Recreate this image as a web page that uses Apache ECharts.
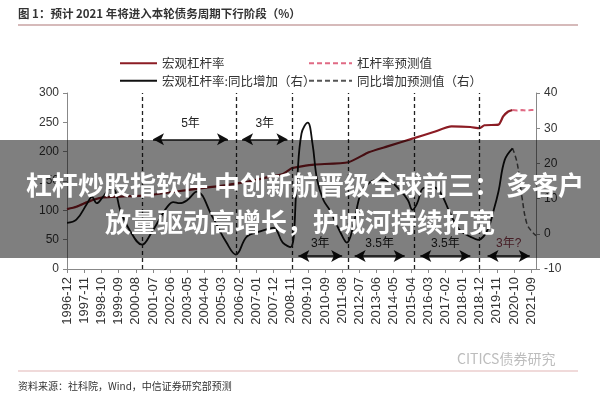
<!DOCTYPE html>
<html><head><meta charset="utf-8">
<script src="https://cdn.jsdelivr.net/npm/echarts@6/dist/echarts.min.js"></script>
<style>html,body{margin:0;padding:0;background:#fff}#c{width:600px;height:400px}</style>
</head><body><div id="c"></div>
<script>
// ---- data ----
const startMonth = '1996-12';
const endMonth = '2021-12';
// 宏观杠杆率 (left axis, %)
const leverageActual = [
  ['1996-12',102],['1997-06',106],['1998-01',114],['1998-06',119],['1998-11',122],
  ['1999-06',123],['2000-02',124],['2001-01',125],['2002-04',130],['2003-06',135],
  ['2004-06',139],['2005-06',143],['2006-06',148],['2007-06',155],['2008-06',162],
  ['2008-12',172],['2009-06',175],['2010-02',178],['2011-12',182],['2013-01',199],
  ['2014-01',209],['2015-06',223],['2016-06',233],['2017-06',243],['2018-06',242],
  ['2018-12',240],['2019-03',245],['2019-12',246],['2020-03',260],['2020-06',268],
  ['2020-09',271]
];
// 杠杆率预测值
const leverageForecast = [
  ['2020-09',271],['2020-12',270],['2021-03',271],['2021-06',270],['2021-09',271],['2021-12',271]
];
// 宏观杠杆率:同比增加 (right axis)
const yoyActual = [
  ['1996-12',3.1],['1997-06',4],['1998-01',8.7],['1998-04',10.5],['1998-07',8.7],
  ['1998-11',10.5],['1999-04',13],['1999-07',12],['1999-10',6.8],['2000-04',1.1],
  ['2000-12',-3.1],['2001-06',0.3],['2001-12',4.8],['2002-04',7.6],['2002-08',9],
  ['2002-12',8.7],['2003-05',9.6],['2003-11',12],['2004-09',4.8],['2005-06',-2.5],
  ['2005-12',-5.9],['2006-07',-0.8],['2007-03',0.6],['2007-12',1.7],['2008-06',-2.5],
  ['2008-11',-3.8],['2009-03',14.4],['2009-06',28.5],['2009-10',31.6],['2010-01',25.7],
  ['2010-04',15.3],['2010-08',9.6],['2010-12',6.8],['2011-07',0.3],['2011-11',-2.5],
  ['2012-03',2],['2012-08',11.6],['2013-02',14.7],['2013-08',15.3],['2014-03',14.7],
  ['2014-09',12.4],['2015-02',9.6],['2015-05',6.8],['2015-08',8.7],['2015-12',13],
  ['2016-06',13.3],['2016-11',11.6],['2017-05',5.9],['2017-11',1.1],['2018-06',-0.8],
  ['2018-11',-1.7],['2019-05',1.1],['2019-09',6.8],['2019-12',12],['2020-04',21],
  ['2020-09',24.3]
];
// 同比增加预测值
const yoyForecast = [
  ['2020-09',24.3],['2020-12',20],['2021-03',10.5],['2021-06',3.1],['2021-09',0.8],['2021-12',-0.5]
];
// cycle boundaries (vertical dashed lines)
const cycleDates = ['2000-12','2005-12','2008-12','2011-12','2015-06','2018-12'];
// cycle span annotations
const cycleSpans = [
  {text:'5年', from:'2001-07', to:'2005-07', level:'top'},
  {text:'3年', from:'2006-04', to:'2008-09', level:'top'},
  {text:'3年', from:'2009-04', to:'2011-08', level:'bottom'},
  {text:'3.5年', from:'2012-04', to:'2014-12', level:'bottom'},
  {text:'3.5年', from:'2015-10', to:'2018-06', level:'bottom'},
  {text:'3年?', from:'2019-05', to:'2021-08', level:'bottom', forecast:true}
];
const leftTicks = [0,50,100,150,200,250,300];
const rightTicks = [-10,0,10,20,30,40];

// ---- build month categories ----
const months = [];
(function(){
  let [y,m] = startMonth.split('-').map(Number);
  const [ey,em] = endMonth.split('-').map(Number);
  while (y < ey || (y === ey && m <= em)) {
    months.push(y + '-' + String(m).padStart(2,'0'));
    m++; if (m > 12) { m = 1; y++; }
  }
})();

const CJK = '"Noto Sans CJK SC", "Liberation Sans", sans-serif';
const chart = echarts.init(document.getElementById('c'));

const spanLines = cycleSpans.map(s => {
  const yv = s.level === 'top' ? 221 : 22;
  const lab = {show:true, position:'middle', formatter:s.text, distance: s.level==='top'?10:6,
    color: s.forecast ? '#8b3a4a' : '#222', fontSize:12, fontFamily:'"Liberation Sans", "Noto Sans CJK SC"'};
  return [{coord:[s.from, yv], label:lab}, {coord:[s.to, yv], label:lab}];
});

const legendCommon = {top:52, orient:'vertical', itemHeight:12, itemGap:5,
  itemStyle:{opacity:0}, textStyle:{fontSize:12.5, color:'#333', fontFamily:CJK}};

chart.setOption({
  animation:false,
  textStyle:{fontFamily:CJK},
  grid:{left:67, right:64, top:93, bottom:131, containLabel:false},
  legend:[
    Object.assign({left:114, itemWidth:37, data:['宏观杠杆率','宏观杠杆率:同比增加（右）']}, legendCommon),
    Object.assign({left:303, itemWidth:43, data:['杠杆率预测值','同比增加预测值（右）']}, legendCommon)
  ],
  xAxis:{
    type:'category', data:months, boundaryGap:false,
    axisLine:{lineStyle:{color:'#888', width:1}},
    axisTick:{interval:10, length:4, lineStyle:{color:'#888'}},
    axisLabel:{interval:10, rotate:90, fontSize:13, color:'#333', margin:8, fontFamily:'"Liberation Sans", Arial'},
    splitLine:{show:false}
  },
  yAxis:[
    {type:'value', min:leftTicks[0], max:leftTicks[leftTicks.length-1], interval:50, position:'left',
     axisLine:{show:true, lineStyle:{color:'#888'}}, axisTick:{show:true, length:4},
     axisLabel:{fontSize:12, color:'#333', margin:8, fontFamily:'"Liberation Sans", Arial'}, splitLine:{show:false}},
    {type:'value', min:rightTicks[0], max:rightTicks[rightTicks.length-1], interval:10, position:'right',
     axisLine:{show:true, lineStyle:{color:'#888'}}, axisTick:{show:true, length:4},
     axisLabel:{fontSize:12, color:'#333', margin:8, fontFamily:'"Liberation Sans", Arial'}, splitLine:{show:false}}
  ],
  series:[
    {name:'宏观杠杆率', type:'line', yAxisIndex:0, data:leverageActual, symbol:'none', smooth:0.2,
     lineStyle:{color:'#8c1c24', width:2.2}, itemStyle:{color:'#b52a34'}, z:3,
     markLine:{silent:true, symbol:['arrow','arrow'], symbolSize:[9,11], animation:false,
       lineStyle:{type:'solid', color:'#111', width:1.5}, emphasis:{disabled:true},
       data:spanLines}},
    {name:'宏观杠杆率:同比增加（右）', type:'line', yAxisIndex:1, data:yoyActual, symbol:'none', smooth:0.4,
     lineStyle:{color:'#111', width:1.8}, itemStyle:{color:'#111'}, z:4,
     markLine:{silent:true, symbol:'none', animation:false, label:{show:false},
       lineStyle:{type:[4,3], color:'#222', width:1.3}, emphasis:{disabled:true},
       data:cycleDates.map(d => ({xAxis:d}))}},
    {name:'杠杆率预测值', type:'line', yAxisIndex:0, data:leverageForecast, symbol:'none',
     lineStyle:{color:'#e06a84', width:2, type:[5,3]}, itemStyle:{color:'#e06a84'}},
    {name:'同比增加预测值（右）', type:'line', yAxisIndex:1, data:yoyForecast, symbol:'none', smooth:0.4,
     lineStyle:{color:'#555', width:1.5, type:[5,3]}, itemStyle:{color:'#555'}}
  ],
  graphic:[
    {type:'text', left:18, top:8, z:10, style:{text:'图 1：预计 2021 年将进入本轮债务周期下行阶段（%）',
      font:'bold 11.5px "Noto Sans CJK SC"', fill:'#333'}},
    {type:'line', z:10, shape:{x1:18, y1:25, x2:578, y2:25}, style:{stroke:'#c9a3a3', lineWidth:1.5}},
    {type:'text', left:457, top:352, z:10, style:{text:'CITICS债券研究', font:'14px "Noto Sans CJK SC"', fill:'#bdbdbd'}},
    {type:'line', z:10, shape:{x1:18, y1:371, x2:578, y2:371}, style:{stroke:'#e2b5b5', lineWidth:1.2}},
    {type:'text', left:18, top:381, z:10, style:{text:'资料来源：社科院，Wind，中信证券研究部预测',
      font:'10px "Noto Sans CJK SC"', fill:'#333'}},
    {type:'rect', z:100, shape:{x:0, y:140, width:600, height:118}, style:{fill:'rgba(0,0,0,0.5)'}},
    {type:'text', z:101, x:305, y:185, style:{text:'杠杆炒股指软件 中创新航晋级全球前三： 多客户',
      font:'bold 26px "Noto Sans CJK SC"', fill:'#fff', align:'center', verticalAlign:'middle'}},
    {type:'text', z:101, x:300, y:222, style:{text:'放量驱动高增长，护城河持续拓宽',
      font:'bold 26px "Noto Sans CJK SC"', fill:'#fff', align:'center', verticalAlign:'middle'}}
  ]
});
</script>
</body></html>
